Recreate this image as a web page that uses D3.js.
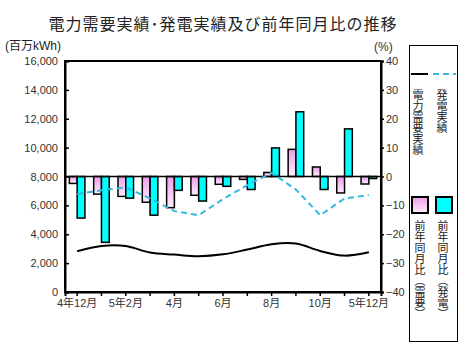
<!DOCTYPE html>
<html>
<head>
<meta charset="utf-8">
<script src="https://cdn.jsdelivr.net/npm/d3@7"></script>
<style>
  body { margin: 0; background: #fff; }
  svg { display: block; font-family: "Liberation Sans", "Noto Sans CJK JP", sans-serif; }
</style>
</head>
<body>
<svg width="465" height="351"></svg>
<script>
// data
const months = ['4年12月', '5年1月', '5年2月', '3月', '4月', '5月', '6月', '7月', '8月', '9月', '10月', '11月', '5年12月'];
const shownLabels = ['4年12月', '5年2月', '4月', '6月', '8月', '10月', '5年12月'];
const demand = [2820, 3190, 3190, 2730, 2590, 2480, 2610, 2940, 3310, 3360, 2840, 2520, 2750];       // 電力需要実績 (百万kWh)
const generation = [6780, 7050, 7240, 6480, 5600, 5320, 6430, 7400, 8250, 7100, 5320, 6480, 6710];   // 発電実績 (百万kWh)
const demandYoY = [-2.4, -6.1, -6.9, -8.9, -10.8, -6.5, -2.7, -1.0, 1.4, 9.4, 3.3, -5.7, -2.6];     // 前年同月比（需要） %
const genYoY = [-14.4, -22.8, -7.5, -13.4, -4.8, -8.5, -3.4, -4.5, 9.9, 22.4, -4.5, 16.5, -0.7];    // 前年同月比（発電） %
const leftTicks = [0, 2000, 4000, 6000, 8000, 10000, 12000, 14000, 16000];
const rightTicks = [-40, -30, -20, -10, 0, 10, 20, 30, 40];

function drawChart() {
    const svg = d3.select('svg');
    const plot = { left: 65, right: 381, top: 61, bottom: 292 };
    const pink = '#f0a0ee';
    const cyan = '#00ffff';
    const blue = '#33b8e0';

    const defs = svg.append('defs');
    const grad = defs.append('linearGradient')
        .attr('id', 'pinkGrad')
        .attr('x1', 0).attr('y1', 0).attr('x2', 0).attr('y2', 1);
    grad.append('stop').attr('offset', '0%').attr('stop-color', '#ee9cec');
    grad.append('stop').attr('offset', '100%').attr('stop-color', '#fdeefc');

    const x0 = d3.scaleBand()
        .domain(months)
        .range([plot.left, plot.right])
        .paddingInner(0.36)
        .paddingOuter(0.18);
    const x1 = d3.scaleBand()
        .domain(['demand', 'gen'])
        .range([0, x0.bandwidth()]);
    const yL = d3.scaleLinear()
        .domain([0, 16000])
        .range([plot.bottom, plot.top]);
    const yR = d3.scaleLinear()
        .domain([-40, 40])
        .range([plot.bottom, plot.top]);

    // Title
    svg.append('text')
        .text('電力需要実績･発電実績及び前年同月比の推移')
        .attr('x', 223)
        .attr('y', 30)
        .style('text-anchor', 'middle')
        .style('font-family', '"Noto Sans CJK JP", sans-serif')
        .style('font-size', '16px')
        .style('letter-spacing', '1px')
        .attr('fill', '#222');
    svg.append('text')
        .text('(百万kWh)')
        .attr('x', 5)
        .attr('y', 50)
        .style('font-size', '12px')
        .attr('fill', '#222');
    svg.append('text')
        .text('(%)')
        .attr('x', 374)
        .attr('y', 51)
        .style('font-size', '12px')
        .attr('fill', '#333');

    // Bars
    const rows = months.map((m, i) => ({ m, demand: demandYoY[i], gen: genYoY[i] }));
    const groups = svg.append('g').selectAll('g')
        .data(rows)
        .join('g')
        .attr('transform', d => `translate(${x0(d.m)},0)`);
    groups.selectAll('rect')
        .data(d => [{ key: 'demand', v: d.demand }, { key: 'gen', v: d.gen }])
        .join('rect')
        .attr('x', d => x1(d.key))
        .attr('y', d => yR(Math.max(0, d.v)))
        .attr('width', x1.bandwidth())
        .attr('height', d => Math.abs(yR(d.v) - yR(0)))
        .attr('fill', d => d.key === 'demand' ? 'url(#pinkGrad)' : cyan)
        .attr('stroke', '#000')
        .attr('stroke-width', 1.5);

    // zero line of the % axis
    svg.append('line')
        .attr('x1', plot.left).attr('x2', plot.right)
        .attr('y1', yR(0)).attr('y2', yR(0))
        .attr('stroke', '#000')
        .attr('stroke-width', 1.5);

    // Lines
    const cx = m => x0(m) + x0.bandwidth() / 2;
    const demandLine = d3.line()
        .x((d, i) => cx(months[i]))
        .y(d => yL(d))
        .curve(d3.curveCatmullRom);
    const genLine = d3.line()
        .x((d, i) => cx(months[i]))
        .y(d => yL(d));
    svg.append('path')
        .attr('d', demandLine(demand))
        .attr('fill', 'none')
        .attr('stroke', '#000')
        .attr('stroke-width', 2);
    svg.append('path')
        .attr('d', genLine(generation))
        .attr('fill', 'none')
        .attr('stroke', blue)
        .attr('stroke-width', 2)
        .attr('stroke-dasharray', '6,4');

    // Frame
    svg.append('rect')
        .attr('x', plot.left).attr('y', plot.top)
        .attr('width', plot.right - plot.left)
        .attr('height', plot.bottom - plot.top)
        .attr('fill', 'none')
        .attr('stroke', '#000')
        .attr('stroke-width', 2);

    // Axes
    const xAxis = d3.axisBottom(x0)
        .tickSize(4)
        .tickPadding(3)
        .tickFormat(d => shownLabels.includes(d) ? d : '');
    const yAxisL = d3.axisLeft(yL)
        .tickValues(leftTicks)
        .tickSize(-4)
        .tickPadding(7)
        .tickFormat(d3.format(','));
    const yAxisR = d3.axisRight(yR)
        .tickValues(rightTicks)
        .tickSize(3)
        .tickPadding(2);
    const gx = svg.append('g')
        .attr('transform', `translate(0, ${plot.bottom})`)
        .call(xAxis);
    const gl = svg.append('g')
        .attr('transform', `translate(${plot.left}, 0)`)
        .call(yAxisL);
    const gr = svg.append('g')
        .attr('transform', `translate(${plot.right}, 0)`)
        .call(yAxisR);
    [gx, gl, gr].forEach(g => {
        g.select('.domain').attr('stroke-width', 2);
        g.selectAll('.tick line').attr('stroke-width', 1.5);
        g.selectAll('.tick text')
            .style('font-family', '"Liberation Sans", "Noto Sans CJK JP", sans-serif')
            .style('font-size', '11px')
            .attr('fill', '#333');
    });

    // Legend
    const legend = svg.append('g');
    legend.append('rect')
        .attr('x', 409.5).attr('y', 45.5)
        .attr('width', 48).attr('height', 296)
        .attr('fill', '#fff')
        .attr('stroke', '#000')
        .attr('stroke-width', 1);
    legend.append('line')
        .attr('x1', 411).attr('x2', 428).attr('y1', 74).attr('y2', 74)
        .attr('stroke', '#000').attr('stroke-width', 2);
    legend.append('line')
        .attr('x1', 433).attr('x2', 456).attr('y1', 74).attr('y2', 74)
        .attr('stroke', blue).attr('stroke-width', 2)
        .attr('stroke-dasharray', '6,4');
    legend.append('rect')
        .attr('x', 412).attr('y', 197).attr('width', 16).attr('height', 16)
        .attr('fill', 'url(#pinkGrad)').attr('stroke', '#000').attr('stroke-width', 2);
    legend.append('rect')
        .attr('x', 436).attr('y', 197).attr('width', 16).attr('height', 16)
        .attr('fill', cyan).attr('stroke', '#000').attr('stroke-width', 2);

    const vText = [
        { t: '電力需要実績', x: 418, y: 89 },
        { t: '発電実績', x: 442, y: 89 },
        { t: '前年同月比（需要）', x: 420, y: 220 },
        { t: '前年同月比（発電）', x: 443, y: 220 }
    ];
    legend.selectAll('text.v')
        .data(vText)
        .join('text')
        .attr('class', 'v')
        .text(d => d.t)
        .attr('x', d => d.x)
        .attr('y', d => d.y)
        .style('writing-mode', 'vertical-rl')
        .style('font-family', '"Noto Sans CJK JP", sans-serif')
        .style('font-size', '11px')
        .attr('fill', '#222');
}

window.addEventListener('load', drawChart);
</script>
</body>
</html>
